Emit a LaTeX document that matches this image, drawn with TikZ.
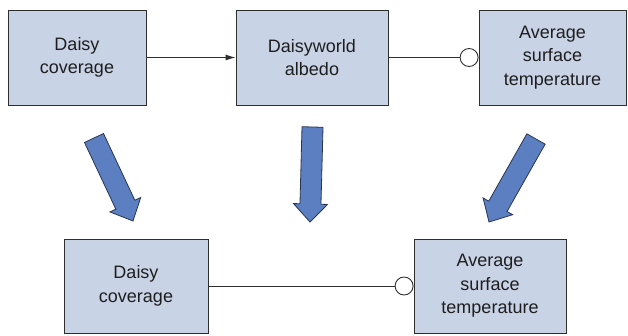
\documentclass[tikz,border=0pt]{standalone}
\usepackage{fontspec}
\setmainfont{Liberation Sans}
\usetikzlibrary{calc,arrows.meta}
\definecolor{boxfill}{HTML}{C9D3E6}
\definecolor{boxline}{HTML}{2E2E2E}
\definecolor{arrfill}{HTML}{5B7FC0}
\definecolor{arrline}{HTML}{2A3550}
\definecolor{txt}{HTML}{1E1E1E}
\newcommand\bigarrow[2]{%
  \coordinate (#2n) at ($(#2)!18pt!(#1)$);
  \draw[bigarr] ($(#1)!10.5pt!90:(#2)$) -- ($(#2n)!10.5pt!90:(#2)$) -- ($(#2n)!17pt!90:(#2)$)
    -- (#2) -- ($(#2n)!17pt!-90:(#2)$) -- ($(#2n)!10.5pt!-90:(#2)$) -- ($(#1)!10.5pt!-90:(#2)$) -- cycle;}
\begin{document}
\begin{tikzpicture}[x=1pt,y=1pt,
  box/.style={draw=boxline, line width=0.9pt, fill=boxfill, text=txt, align=center,
    font=\fontsize{18}{23.5}\selectfont, inner sep=0pt, minimum height=95pt},
  link/.style={draw=boxline, line width=0.9pt},
  ring/.style={circle, draw=boxline, line width=0.9pt, fill=white, inner sep=0pt, minimum size=18pt},
  bigarr/.style={fill=arrfill, draw=arrline, line width=0.8pt, line join=miter}]
\useasboundingbox (0,0) rectangle (628,335);
\node[box, minimum width=138pt] (b1) at (77,277.5) {Daisy\\coverage};
\node[box, minimum width=152pt] (b2) at (312,277.5) {Daisyworld\\albedo};
\node[box, minimum width=147pt] (b3) at (552.5,277.5) {Average\\surface\\temperature};
\node[box, minimum width=144pt, minimum height=94pt] (b4) at (136,49) {Daisy\\coverage};
\node[box, minimum width=152pt, minimum height=94pt] (b5) at (490,49) {Average\\surface\\temperature};
\node[ring, anchor=east] (c1) at (b3.west) {};
\node[ring, anchor=east] (c2) at (b5.west) {};
\draw[link, -{Latex[length=10pt,width=6pt]}] (b1.east) -- (b2.west);
\draw[link] (b2.east) -- (c1.west);
\draw[link] (b4.east) -- (c2.west);
\coordinate (t1) at (94,197);
\coordinate (h1) at (133,114);
\coordinate (t2) at (312.5,208);
\coordinate (h2) at (310,113);
\coordinate (t3) at (536,196);
\coordinate (h3) at (489,113);
\bigarrow{t1}{h1}
\bigarrow{t2}{h2}
\bigarrow{t3}{h3}
\end{tikzpicture}
\end{document}
